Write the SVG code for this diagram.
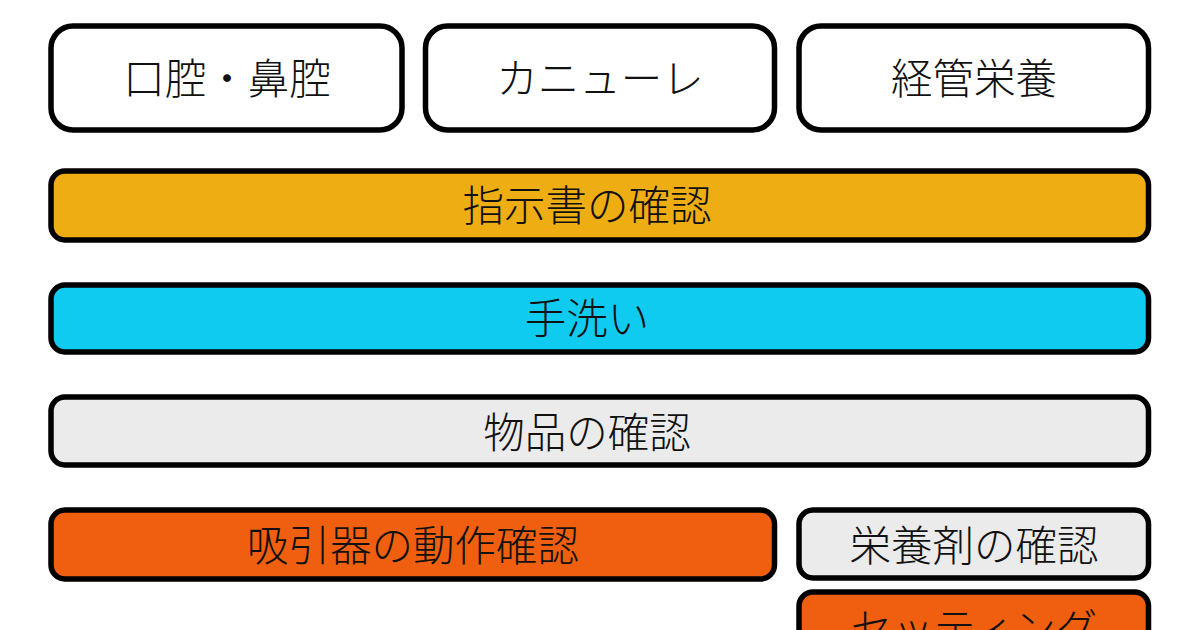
<svg xmlns="http://www.w3.org/2000/svg" width="1200" height="630" viewBox="0 0 1200 630">
<style>
.b{stroke:#000;stroke-width:5.5}
.t{font-family:"Noto Sans CJK JP","Noto Sans CJK SC",sans-serif;font-size:41.5px;font-weight:300;fill:#111;text-anchor:middle;dominant-baseline:central}
.w{fill:#fff}.y{fill:#EEAD12}.c{fill:#10CBF0}.g{fill:#EBEBEB}.o{fill:#F05F0F}
</style>
<rect width="1200" height="630" fill="#fff"/>
<g id="connectors"/>
<g id="n1"><rect class="b w" x="51" y="26" width="351" height="104" rx="22"/><text class="t" x="227" y="76">口腔・鼻腔</text></g>
<g id="n2"><rect class="b w" x="425.5" y="26" width="349" height="104" rx="22"/><text class="t" x="600" y="76">カニューレ</text></g>
<g id="n3"><rect class="b w" x="799" y="26" width="349.5" height="104" rx="22"/><text class="t" x="974" y="76">経管栄養</text></g>
<g id="n4"><rect class="b y" x="51" y="171" width="1097.5" height="69" rx="14"/><text class="t" x="587" y="203">指示書の確認</text></g>
<g id="n5"><rect class="b c" x="51" y="285" width="1097.5" height="67" rx="14"/><text class="t" x="587" y="316">手洗い</text></g>
<g id="n6"><rect class="b g" x="51" y="397" width="1097.5" height="68" rx="14"/><text class="t" x="587" y="430">物品の確認</text></g>
<g id="n7"><rect class="b o" x="51" y="510" width="723.5" height="69" rx="14"/><text class="t" x="413" y="543">吸引器の動作確認</text></g>
<g id="n8"><rect class="b g" x="799" y="510" width="349.5" height="68" rx="14"/><text class="t" x="974" y="543">栄養剤の確認</text></g>
<g id="n9"><rect class="b o" x="799" y="592" width="349.5" height="70" rx="14"/><text class="t" x="974" y="626">セッティング</text></g>
</svg>
